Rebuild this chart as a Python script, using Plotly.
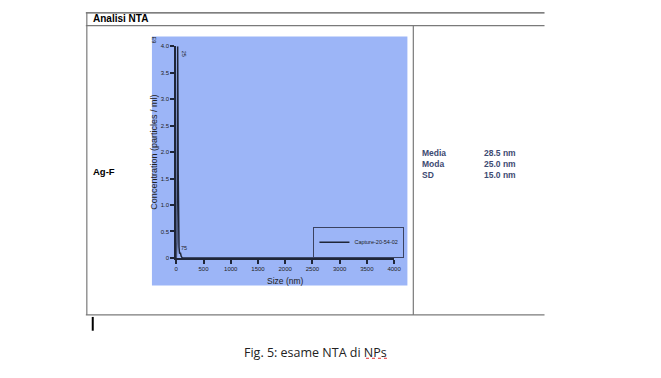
import plotly.graph_objects as go

# ---- data (estimated) ----
size_nm = [0, 10, 15, 20, 25, 30, 35, 40, 50, 60, 75, 90, 110, 150, 4000]
conc = [0, 0.3e9, 1.5e9, 3.2e9, 4.0e9, 3.0e9, 1.6e9, 0.7e9, 0.2e9, 0.08e9, 0.1e9, 0.03e9, 0, 0, 0]
series_name = "Capture-20-54-02"

x_tickvals = [0, 500, 1000, 1500, 2000, 2500, 3000, 3500, 4000]
x_ticktext = ["0", "500", "1000", "1500", "2000", "2500", "3000", "3500", "4000"]
y_tickvals = [0, 0.5e9, 1.0e9, 1.5e9, 2.0e9, 2.5e9, 3.0e9, 3.5e9, 4.0e9]
y_ticktext = ["0", "0.5", "1.0", "1.5", "2.0", "2.5", "3.0", "3.5", "4.0"]

peak_labels = [(25, 4.0e9, "25", 90), (75, 0.1e9, "75", 0)]

stats_names = ["Media", "Moda", "SD"]
stats_values = ["28.5 nm", "25.0 nm", "15.0 nm"]
sample_label = "Ag-F"
table_title = "Analisi NTA"
caption = "Fig. 5: esame NTA di NPs"

W, H = 661, 378


def px(x):
    return x / W


def py(y):
    return 1 - y / H


AX = "#1f2638"
NARROW = "Liberation Sans Narrow, Arial Narrow, Liberation Sans, Arial, sans-serif"
SANS = "Liberation Sans, Arial, sans-serif"

fig = go.Figure()
fig.add_trace(go.Scatter(x=size_nm, y=conc, mode="lines", name=series_name,
                         line=dict(color=AX, width=1.5), showlegend=True))

shapes = []
# chart image background
shapes.append(dict(type="rect", xref="paper", yref="paper", layer="below",
                   x0=px(152), x1=px(411), y0=py(287), y1=py(34),
                   fillcolor="#9cb5f7", line=dict(width=0)))
# table lines
g = "#7a7a7a"
for (x0, y0, x1, y1, c) in [(85, 10, 550, 10, "#555555"), (85, 23, 550, 23, g),
                            (85, 317, 550, 317, g), (86, 10, 86, 317, g),
                            (417, 23, 417, 317, g)]:
    shapes.append(dict(type="line", xref="paper", yref="paper",
                       x0=px(x0), x1=px(x1), y0=py(y0), y1=py(y1),
                       line=dict(color=c, width=1.2)))
# text cursor
shapes.append(dict(type="line", xref="paper", yref="paper",
                   x0=px(92), x1=px(92), y0=py(319), y1=py(333),
                   line=dict(color="black", width=2)))
# spell-check squiggle under NPs
shapes.append(dict(type="line", xref="paper", yref="paper",
                   x0=px(369), x1=px(392), y0=py(361), y1=py(361),
                   line=dict(color="#e03030", width=1, dash="dot")))

ann = []
ann.append(dict(text="<b>" + table_title + "</b>", x=px(90), y=py(16), xref="paper", yref="paper",
                xanchor="left", yanchor="middle", showarrow=False,
                font=dict(family=SANS, size=10, color="black")))
ann.append(dict(text="<b>" + sample_label + "</b>", x=px(90), y=py(171), xref="paper", yref="paper",
                xanchor="left", yanchor="middle", showarrow=False,
                font=dict(family=SANS, size=9.5, color="black")))
for i, (n, v) in enumerate(zip(stats_names, stats_values)):
    yy = 152 + i * 11.5
    ann.append(dict(text="<b>" + n + "</b>", x=px(424), y=py(yy), xref="paper", yref="paper",
                    xanchor="left", yanchor="middle", showarrow=False,
                    font=dict(family=SANS, size=8.5, color="#3d4a72")))
    ann.append(dict(text="<b>" + v + "</b>", x=px(487), y=py(yy), xref="paper", yref="paper",
                    xanchor="left", yanchor="middle", showarrow=False,
                    font=dict(family=SANS, size=8.5, color="#3d4a72")))
ann.append(dict(text=caption, x=px(318), y=py(355), xref="paper", yref="paper",
                xanchor="center", yanchor="middle", showarrow=False,
                font=dict(family="Open Sans, sans-serif", size=12.5, color="#222222")))
ann.append(dict(text="E9", x=px(154), y=py(38), xref="paper", yref="paper",
                xanchor="center", yanchor="middle", showarrow=False, textangle=90,
                font=dict(family=NARROW, size=5.5, color="#222222")))
for (lx, ly, lt, ang) in peak_labels:
    if ang:
        ann.append(dict(text=lt, x=lx, y=ly, xref="x", yref="y", xanchor="left", yanchor="top",
                        xshift=1, yshift=-2, showarrow=False, textangle=ang,
                        font=dict(family=NARROW, size=5.5, color="#222222")))
    else:
        ann.append(dict(text=lt, x=lx, y=ly, xref="x", yref="y", xanchor="left", yanchor="bottom",
                        xshift=-1, yshift=0, showarrow=False,
                        font=dict(family=NARROW, size=5.5, color="#222222")))

fig.update_layout(
    width=W, height=H, autosize=False, margin=dict(l=0, r=0, t=0, b=0),
    paper_bgcolor="white", plot_bgcolor="rgba(0,0,0,0)",
    shapes=shapes, annotations=ann,
    xaxis=dict(domain=[px(176.7), px(397.5)], range=[0, 4000], showgrid=False, zeroline=False,
               showline=True, linecolor=AX, linewidth=2, ticks="outside", ticklen=4,
               tickwidth=1.5, tickcolor=AX, tickvals=x_tickvals, ticktext=x_ticktext,
               tickfont=dict(family=NARROW, size=6, color="#222222"),
               title=dict(text="Size (nm)", font=dict(family=SANS, size=8.5, color="#222222"),
                          standoff=7)),
    yaxis=dict(domain=[py(259), py(44)], range=[0, 4.0e9], showgrid=False, zeroline=False,
               showline=True, linecolor=AX, linewidth=2, ticks="outside", ticklen=4,
               tickwidth=1.5, tickcolor=AX, tickvals=y_tickvals, ticktext=y_ticktext,
               tickfont=dict(family=NARROW, size=6, color="#222222"),
               title=dict(text="Concentration (particles / ml)",
                          font=dict(family=SANS, size=9, color="#222222"), standoff=2)),
    legend=dict(x=px(408), y=py(243), xanchor="right", yanchor="middle",
                bgcolor="rgba(0,0,0,0)", bordercolor="#3a4260", borderwidth=1,
                font=dict(family=NARROW, size=5.5, color="#222222"),
                itemwidth=30, tracegroupgap=0),
    showlegend=True,
)

fig.write_html(
    "out.html",
    config={"displayModeBar": False, "responsive": False},
    post_script="document.body.style.margin='0px';document.body.style.padding='0px';"
                "document.body.style.overflow='hidden';"
                "document.documentElement.style.overflow='hidden';",
)
